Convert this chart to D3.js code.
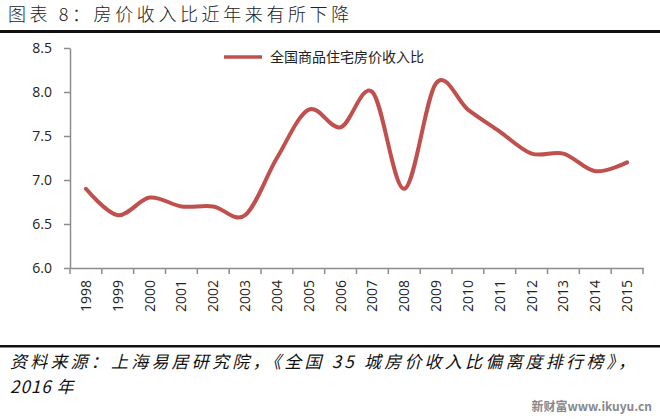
<!DOCTYPE html>
<html><head><meta charset="utf-8">
<script src="https://cdn.jsdelivr.net/npm/d3@7"></script>
<style>body{margin:0;background:#fff}svg{display:block}</style>
</head><body>
<script>
const years = ["1998","1999","2000","2001","2002","2003","2004","2005","2006","2007","2008","2009","2010","2011","2012","2013","2014","2015"];
const ratio = [6.9,6.6,6.8,6.7,6.7,6.6,7.25,7.8,7.6,8.0,6.9,8.1,7.8,7.55,7.3,7.3,7.1,7.2];
const yTicks = [6.0,6.5,7.0,7.5,8.0,8.5];
const seriesName = "全国商品住宅房价收入比";
const title = "图表 8：房价收入比近年来有所下降";
const source1 = "资料来源：上海易居研究院，《全国 35 城房价收入比偏离度排行榜》，";
const source2 = "2016 年";
const watermark = "新财富www.ikuyu.cn";

const W=660,H=420;
const svg=d3.select("body").append("svg").attr("width",W).attr("height",H);
const font="'Noto Sans CJK SC','Noto Sans',sans-serif";

svg.append("text").attr("x",8).attr("y",21).attr("font-family",font).attr("font-weight",300).attr("font-size",18).attr("letter-spacing",3.6).attr("fill","#222").text(title);
svg.append("rect").attr("x",0).attr("y",30).attr("width",660).attr("height",3).attr("fill","#111");
svg.append("rect").attr("x",0).attr("y",345).attr("width",660).attr("height",2.5).attr("fill","#111");

const x=d3.scaleBand().domain(years).range([70,643]);
const y=d3.scaleLinear().domain([6,8.5]).range([268,48]);

const g=svg.append("g");
const ya=g.append("g").attr("transform","translate(70,0)").call(d3.axisLeft(y).tickValues(yTicks).tickFormat(d3.format(".1f")).tickSize(6).tickSizeOuter(0));
ya.select(".domain").attr("stroke","#8c8c8c").attr("stroke-width",1.5);
ya.selectAll(".tick line").attr("stroke","#8c8c8c").attr("stroke-width",1.5);
ya.selectAll("text").attr("font-family","'Open Sans','DejaVu Sans',sans-serif").attr("font-size",14).attr("fill","#222").attr("x",-18);
const xa=g.append("g").attr("transform","translate(0,268)").call(d3.axisBottom(x).tickSize(0).tickFormat(""));
xa.select(".domain").attr("stroke","#8c8c8c").attr("stroke-width",1.5);
const bounds=years.map(d=>x(d)).concat([x.range()[1]]);
g.selectAll(".xt").data(bounds).join("line").attr("x1",d=>d).attr("x2",d=>d).attr("y1",268).attr("y2",274).attr("stroke","#8c8c8c").attr("stroke-width",1.5);
g.selectAll(".xl").data(years).join("text")
 .attr("transform",d=>`translate(${x(d)+x.bandwidth()/2+5},280) rotate(-90)`)
 .attr("text-anchor","end").attr("font-family","'Open Sans','DejaVu Sans',sans-serif").attr("font-size",14).attr("fill","#222").text(d=>d);

const line=d3.line().x((d,i)=>x(years[i])+x.bandwidth()/2).y(d=>y(d)).curve(d3.curveCardinal.tension(0));
g.append("path").datum(ratio).attr("d",line).attr("fill","none").attr("stroke","#C0504D").attr("stroke-width",4).attr("stroke-linecap","round");

svg.append("line").attr("x1",224).attr("x2",262).attr("y1",57).attr("y2",57).attr("stroke","#C0504D").attr("stroke-width",3.5);
svg.append("text").attr("x",270).attr("y",62).attr("font-family",font).attr("font-size",14).attr("fill","#222").text(seriesName);

svg.append("text").attr("x",10).attr("y",368).attr("font-family",font).attr("font-style","italic").attr("font-size",17).attr("letter-spacing",3.2).attr("fill","#111").text(source1);
svg.append("text").attr("x",10).attr("y",393).attr("font-family",font).attr("font-style","italic").attr("font-size",17).attr("letter-spacing",1).attr("fill","#111").text(source2);
svg.append("text").attr("x",652).attr("y",411).attr("text-anchor","end").attr("font-family",font).attr("font-weight","bold").attr("font-size",12).attr("fill","#888").text(watermark);
</script>
</body></html>
